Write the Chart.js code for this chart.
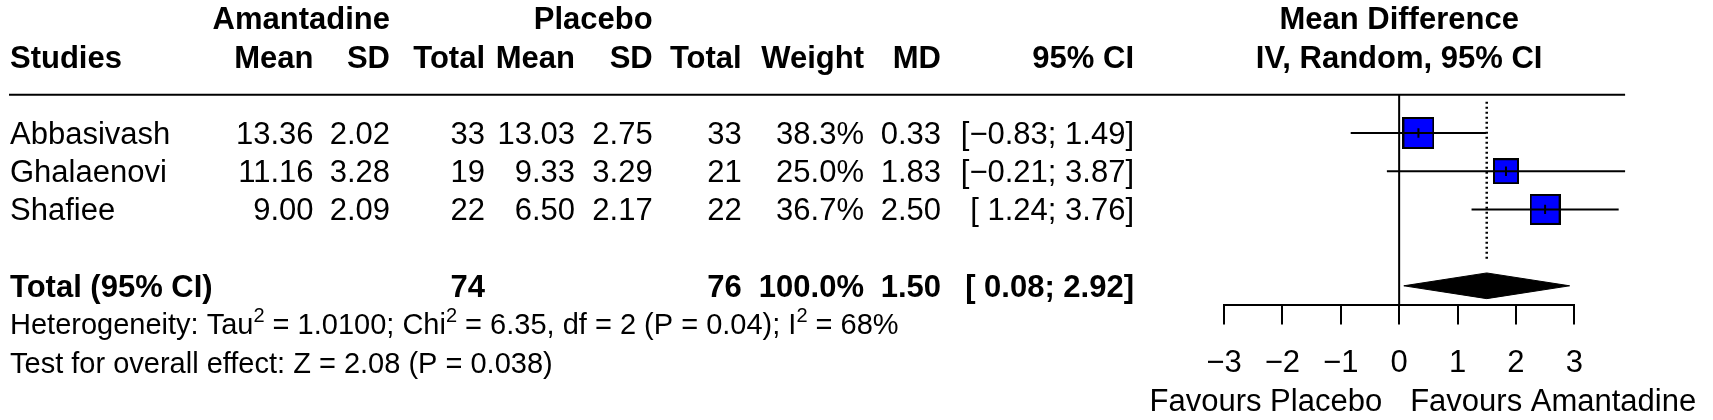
<!DOCTYPE html>
<html>
<head>
<meta charset="utf-8">
<script src="https://cdn.jsdelivr.net/npm/chart.js@4.4.0/dist/chart.umd.min.js"></script>
<style>
html,body{margin:0;padding:0;background:#fff;}
canvas{display:block;}
</style>
</head>
<body>
<canvas id="c" width="1713" height="420"></canvas>
<script>
// ---------------- data ----------------
const studies  = ['Abbasivash', 'Ghalaenovi', 'Shafiee'];
const amaMean  = [13.36, 11.16, 9.00];
const amaSD    = [2.02, 3.28, 2.09];
const amaN     = [33, 19, 22];
const plaMean  = [13.03, 9.33, 6.50];
const plaSD    = [2.75, 3.29, 2.17];
const plaN     = [33, 21, 22];
const weights  = [38.3, 25.0, 36.7];
const md       = [0.33, 1.83, 2.50];
const ciLow    = [-0.83, -0.21, 1.24];
const ciHigh   = [1.49, 3.87, 3.76];

const totalLabel  = 'Total (95% CI)';
const amaTotal    = 74;
const plaTotal    = 76;
const totalWeight = 100.0;
const pooledMD    = 1.50;
const pooledLow   = 0.08;
const pooledHigh  = 2.92;

const tickValues = [-3, -2, -1, 0, 1, 2, 3];
const tickLabels = ['\u22123', '\u22122', '\u22121', '0', '1', '2', '3'];

const groupLabels   = ['Amantadine', 'Placebo'];
const columnHeaders = ['Studies', 'Mean', 'SD', 'Total', 'Mean', 'SD', 'Total', 'Weight', 'MD', '95% CI'];
const plotHeaders   = ['Mean Difference', 'IV, Random, 95% CI'];
const favourLabels  = ['Favours Placebo', 'Favours Amantadine'];
const heterogeneity = [
  ['Heterogeneity: Tau', false], ['2', true],
  [' = 1.0100; Chi', false], ['2', true],
  [' = 6.35, df = 2 (P = 0.04); I', false], ['2', true],
  [' = 68%', false]
];
const overallTest = 'Test for overall effect: Z = 2.08 (P = 0.038)';

// ---------------- styles / layout ----------------
const FONT = '"Liberation Sans", Arial, Helvetica, sans-serif';
const FS = 31;       // table / axis font size
const FS_HET = 29;   // heterogeneity / overall test font size
const COLS = [313.5, 390, 485, 575, 652.7, 741.7, 864, 941, 1134]; // right edges of numeric columns
const LEFT_X = 10;
const Y_MAX = 5.5;
const DH = 0.336; // diamond half height (rows)

function fmt2(v) { return v.toFixed(2).replace('-', '\u2212'); }
function fmtCI(lo, hi) { return '[' + (lo < 0 ? '' : ' ') + fmt2(lo) + '; ' + fmt2(hi) + ']'; }

function makeSquare(w) {
  const side = Math.round(5.1 * Math.sqrt(w));
  const c = document.createElement('canvas');
  c.width = side; c.height = side;
  const g = c.getContext('2d');
  g.fillStyle = '#000';
  g.fillRect(0, 0, side, side);
  g.fillStyle = '#0000FF';
  g.fillRect(2, 2, side - 4, side - 4);
  return c;
}

const rows = studies.map((_, i) => i + 1);
const totalRow = studies.length + 2;

const datasets = [];
// estimate tick marks
datasets.push({
  type: 'scatter',
  data: md.map((m, i) => ({ x: m, y: rows[i] })),
  pointStyle: 'line', rotation: 90, pointRadius: 4.7,
  borderColor: '#000', backgroundColor: '#000', pointBorderWidth: 2,
  order: 0
});
// confidence intervals
studies.forEach((s, i) => {
  datasets.push({
    type: 'line',
    data: [{ x: ciLow[i], y: rows[i] }, { x: ciHigh[i], y: rows[i] }],
    borderColor: '#000', borderWidth: 2, pointRadius: 0, clip: false, fill: false,
    order: 1
  });
});
// squares
datasets.push({
  type: 'scatter',
  data: md.map((m, i) => ({ x: m, y: rows[i] })),
  pointStyle: weights.map(makeSquare), pointRadius: 10,
  order: 2
});
// pooled diamond
datasets.push({
  type: 'line',
  data: [
    { x: pooledLow, y: totalRow }, { x: pooledMD, y: totalRow - DH },
    { x: pooledHigh, y: totalRow }, { x: pooledMD, y: totalRow + DH },
    { x: pooledLow, y: totalRow }
  ],
  fill: 'shape', backgroundColor: '#000', borderColor: '#000', borderWidth: 1,
  pointRadius: 0, tension: 0, clip: false,
  order: 2
});
// dotted pooled line
datasets.push({
  type: 'line',
  data: [{ x: pooledMD, y: 0.18 }, { x: pooledMD, y: totalRow - DH - 0.3 }],
  borderColor: '#000', borderWidth: 2.5, borderDash: [2, 3], pointRadius: 0, fill: false,
  order: 3
});
// line of no effect
datasets.push({
  type: 'line',
  data: [{ x: 0, y: 0 }, { x: 0, y: Y_MAX }],
  borderColor: '#000', borderWidth: 2, pointRadius: 0, fill: false, clip: false,
  order: 3
});

const textPlugin = {
  id: 'forestText',
  afterDraw(chart) {
    const { ctx } = chart;
    const xs = chart.scales.x, ys = chart.scales.y;
    const rp = r => ys.getPixelForValue(r);
    ctx.save();
    ctx.fillStyle = '#000';
    ctx.textBaseline = 'alphabetic';
    const put = (t, px, r, align, bold, size) => {
      const fs = size || FS;
      ctx.font = (bold ? 'bold ' : '') + fs + 'px ' + FONT;
      ctx.textAlign = align;
      ctx.fillText(t, px, rp(r) + fs * 0.358);
    };
    // header rule
    ctx.strokeStyle = '#000';
    ctx.lineWidth = 2;
    ctx.beginPath();
    ctx.moveTo(LEFT_X - 1, rp(0));
    ctx.lineTo(xs.getPixelForValue(Math.max(...ciHigh)), rp(0));
    ctx.stroke();

    // group labels
    put(groupLabels[0], COLS[1], -2, 'right', true);
    put(groupLabels[1], COLS[4], -2, 'right', true);
    // column headers
    put(columnHeaders[0], LEFT_X, -1, 'left', true);
    for (let k = 1; k < columnHeaders.length; k++) put(columnHeaders[k], COLS[k - 1], -1, 'right', true);
    // plot headers
    const x0 = xs.getPixelForValue(0);
    put(plotHeaders[0], x0, -2, 'center', true);
    put(plotHeaders[1], x0, -1, 'center', true);

    // study rows
    studies.forEach((s, i) => {
      const r = rows[i];
      put(s, LEFT_X, r, 'left', false);
      const vals = [amaMean[i].toFixed(2), amaSD[i].toFixed(2), String(amaN[i]),
                    plaMean[i].toFixed(2), plaSD[i].toFixed(2), String(plaN[i]),
                    weights[i].toFixed(1) + '%', fmt2(md[i]), fmtCI(ciLow[i], ciHigh[i])];
      vals.forEach((v, k) => put(v, COLS[k], r, 'right', false));
    });
    // total row
    put(totalLabel, LEFT_X, totalRow, 'left', true);
    put(String(amaTotal), COLS[2], totalRow, 'right', true);
    put(String(plaTotal), COLS[5], totalRow, 'right', true);
    put(totalWeight.toFixed(1) + '%', COLS[6], totalRow, 'right', true);
    put(fmt2(pooledMD), COLS[7], totalRow, 'right', true);
    put(fmtCI(pooledLow, pooledHigh), COLS[8], totalRow, 'right', true);

    // heterogeneity with superscripts
    let cx = LEFT_X;
    const hb = rp(totalRow + 1) + FS_HET * 0.358;
    ctx.textAlign = 'left';
    heterogeneity.forEach(([t, sup]) => {
      ctx.font = (sup ? Math.round(FS_HET * 0.7) : FS_HET) + 'px ' + FONT;
      ctx.fillText(t, cx, sup ? hb - 12 : hb);
      cx += ctx.measureText(t).width;
    });
    put(overallTest, LEFT_X, totalRow + 2, 'left', false, FS_HET);

    // favours labels
    put(favourLabels[0], x0 - 17, totalRow + 3, 'right', false);
    put(favourLabels[1], x0 + 11, totalRow + 3, 'left', false);
    ctx.restore();
  }
};

new Chart(document.getElementById('c'), {
  type: 'scatter',
  data: { datasets },
  options: {
    responsive: false,
    animation: false,
    devicePixelRatio: 1,
    events: [],
    layout: { autoPadding: false, padding: { top: 94.8, left: 1224, right: 138.7, bottom: 35.1 } },
    plugins: { legend: { display: false }, tooltip: { enabled: false } },
    scales: {
      x: {
        type: 'linear', position: 'bottom', min: tickValues[0], max: tickValues[tickValues.length - 1],
        afterFit(scale) { scale.height = 80; },
        afterBuildTicks(scale) { scale.ticks = tickValues.map(v => ({ value: v })); },
        ticks: {
          color: '#000', padding: 20.5, autoSkip: false, maxRotation: 0,
          font: { family: FONT, size: FS },
          callback: (v) => tickLabels[tickValues.indexOf(v)]
        },
        grid: { drawOnChartArea: false, drawTicks: true, tickLength: 19.5, color: '#000', lineWidth: 2 },
        border: { display: true, color: '#000', width: 2 }
      },
      y: { type: 'linear', reverse: true, min: 0, max: Y_MAX, display: false }
    }
  },
  plugins: [textPlugin]
});
</script>
</body>
</html>
